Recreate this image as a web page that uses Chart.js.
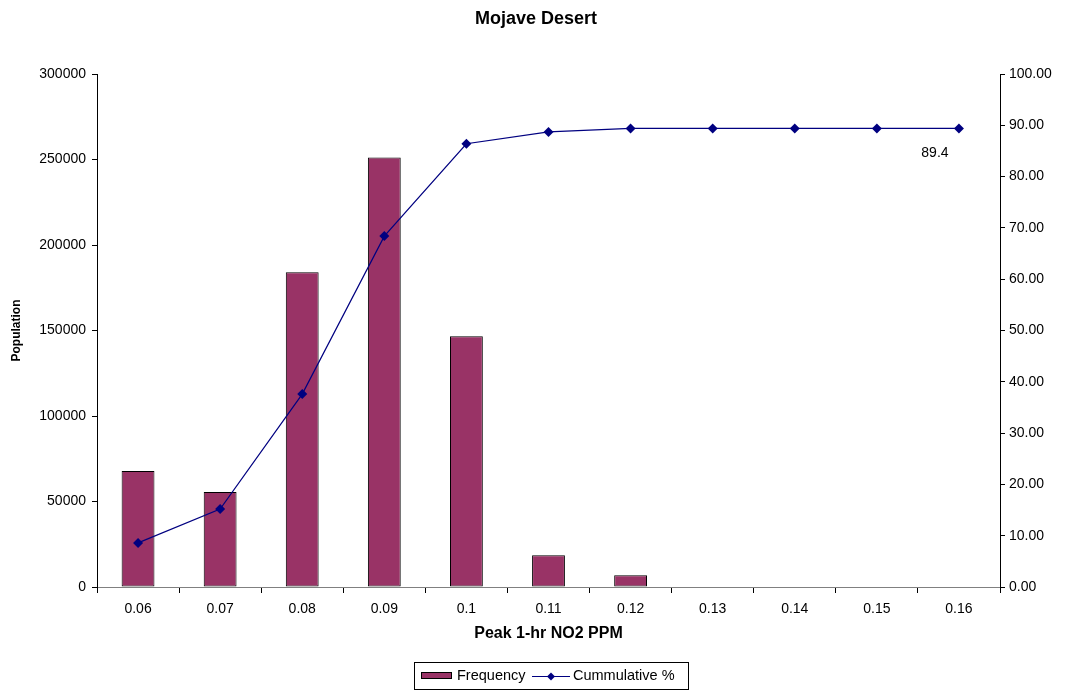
<!DOCTYPE html>
<html>
<head>
<meta charset="utf-8">
<script src="https://cdn.jsdelivr.net/npm/chart.js@4"></script>
<style>
  html, body { margin: 0; padding: 0; background: #fff; }
  #wrap { width: 1074px; height: 692px; position: relative; }
</style>
</head>
<body>
<div id="wrap"><canvas id="chart"></canvas></div>
<script>
const categories = ['0.06', '0.07', '0.08', '0.09', '0.1', '0.11', '0.12', '0.13', '0.14', '0.15', '0.16'];
const frequency = [67800, 55500, 184000, 251200, 146700, 18600, 6800, 0, 0, 0, 0];
const cumulative = [8.6, 15.2, 37.6, 68.4, 86.4, 88.7, 89.4, 89.4, 89.4, 89.4, 89.4];
const leftTicks = [0, 50000, 100000, 150000, 200000, 250000, 300000];
const rightTicks = [0, 10, 20, 30, 40, 50, 60, 70, 80, 90, 100];

const FONT = 'Liberation Sans, Arial, sans-serif';
const BAR = '#993366';
const LINE = '#000080';

// title, end label and the boxed legend are drawn by hand
const extras = {
  id: 'extras',
  afterDraw(chart) {
    const ctx = chart.ctx;
    ctx.save();
    ctx.fillStyle = '#000';
    ctx.font = 'bold 18px ' + FONT;
    ctx.textAlign = 'center';
    ctx.textBaseline = 'middle';
    ctx.fillText('Mojave Desert', 536, 19);

    // label on last point
    const meta = chart.getDatasetMeta(0);
    const last = meta.data[meta.data.length - 1];
    ctx.font = '14px ' + FONT;
    ctx.fillText(String(cumulative[cumulative.length - 1]), last.x - 24, last.y + 25);

    // legend
    ctx.strokeStyle = '#000';
    ctx.lineWidth = 1;
    ctx.strokeRect(414.5, 662.5, 274, 27);
    ctx.fillStyle = BAR;
    ctx.fillRect(421, 672, 31, 7);
    ctx.strokeRect(421.5, 672.5, 30, 6);
    ctx.fillStyle = '#000';
    ctx.font = '14.5px ' + FONT;
    ctx.textAlign = 'left';
    ctx.fillText('Frequency', 457, 676);
    ctx.strokeStyle = LINE;
    ctx.beginPath();
    ctx.moveTo(532, 676.5);
    ctx.lineTo(570, 676.5);
    ctx.stroke();
    ctx.fillStyle = LINE;
    ctx.beginPath();
    ctx.moveTo(551, 672.5);
    ctx.lineTo(555, 676.5);
    ctx.lineTo(551, 680.5);
    ctx.lineTo(547, 676.5);
    ctx.closePath();
    ctx.fill();
    ctx.fillStyle = '#000';
    ctx.fillText('Cummulative %', 573, 676);
    ctx.restore();
  }
};

const ctx = document.getElementById('chart').getContext('2d');
new Chart(ctx, {
  type: 'bar',
  data: {
    labels: categories,
    datasets: [
      {
        type: 'line',
        label: 'Cummulative %',
        data: cumulative,
        yAxisID: 'y1',
        borderColor: LINE,
        backgroundColor: LINE,
        borderWidth: 1.2,
        pointStyle: 'rectRot',
        pointRadius: 5,
        pointBorderWidth: 0,
        tension: 0,
        order: 0
      },
      {
        label: 'Frequency',
        data: frequency,
        yAxisID: 'y',
        backgroundColor: BAR,
        borderColor: '#000',
        borderWidth: 1,
        borderSkipped: false,
        barPercentage: 0.4,
        categoryPercentage: 1,
        order: 1
      }
    ]
  },
  options: {
    responsive: true,
    maintainAspectRatio: false,
    animation: false,
    layout: { padding: { top: 74, bottom: 47, left: 0, right: 0 } },
    plugins: {
      legend: { display: false },
      title: { display: false },
      tooltip: { enabled: false }
    },
    scales: {
      x: {
        grid: { drawOnChartArea: false, color: '#000', tickLength: 6, offset: true },
        border: { color: '#808080', width: 1 },
        ticks: { color: '#000', font: { family: FONT, size: 14 }, padding: 8, maxRotation: 0 },
        title: { display: true, text: 'Peak 1-hr NO2 PPM', color: '#000', font: { family: FONT, size: 16, weight: 'bold' }, padding: { top: 4, bottom: 2 } },
        afterFit(scale) { scale.height = 58; }
      },
      y: {
        position: 'left',
        min: 0,
        max: 300000,
        afterBuildTicks(scale) { scale.ticks = leftTicks.map(v => ({ value: v })); },
        grid: { drawOnChartArea: false, color: '#000', tickLength: 5 },
        border: { color: '#000', width: 1 },
        ticks: { color: '#000', font: { family: FONT, size: 14 }, padding: 6, callback: v => String(v) },
        title: { display: true, text: 'Population', color: '#000', font: { family: FONT, size: 12, weight: 'bold' }, padding: { top: 9, bottom: 4 } },
        afterFit(scale) { scale.width = 97; }
      },
      y1: {
        position: 'right',
        min: 0,
        max: 100,
        afterBuildTicks(scale) { scale.ticks = rightTicks.map(v => ({ value: v })); },
        grid: { drawOnChartArea: false, color: '#000', tickLength: 5 },
        border: { color: '#000', width: 1 },
        ticks: { color: '#000', font: { family: FONT, size: 14 }, padding: 4, callback: v => v.toFixed(2) },
        afterFit(scale) { scale.width = 74; }
      }
    }
  },
  plugins: [extras]
});
</script>
</body>
</html>
